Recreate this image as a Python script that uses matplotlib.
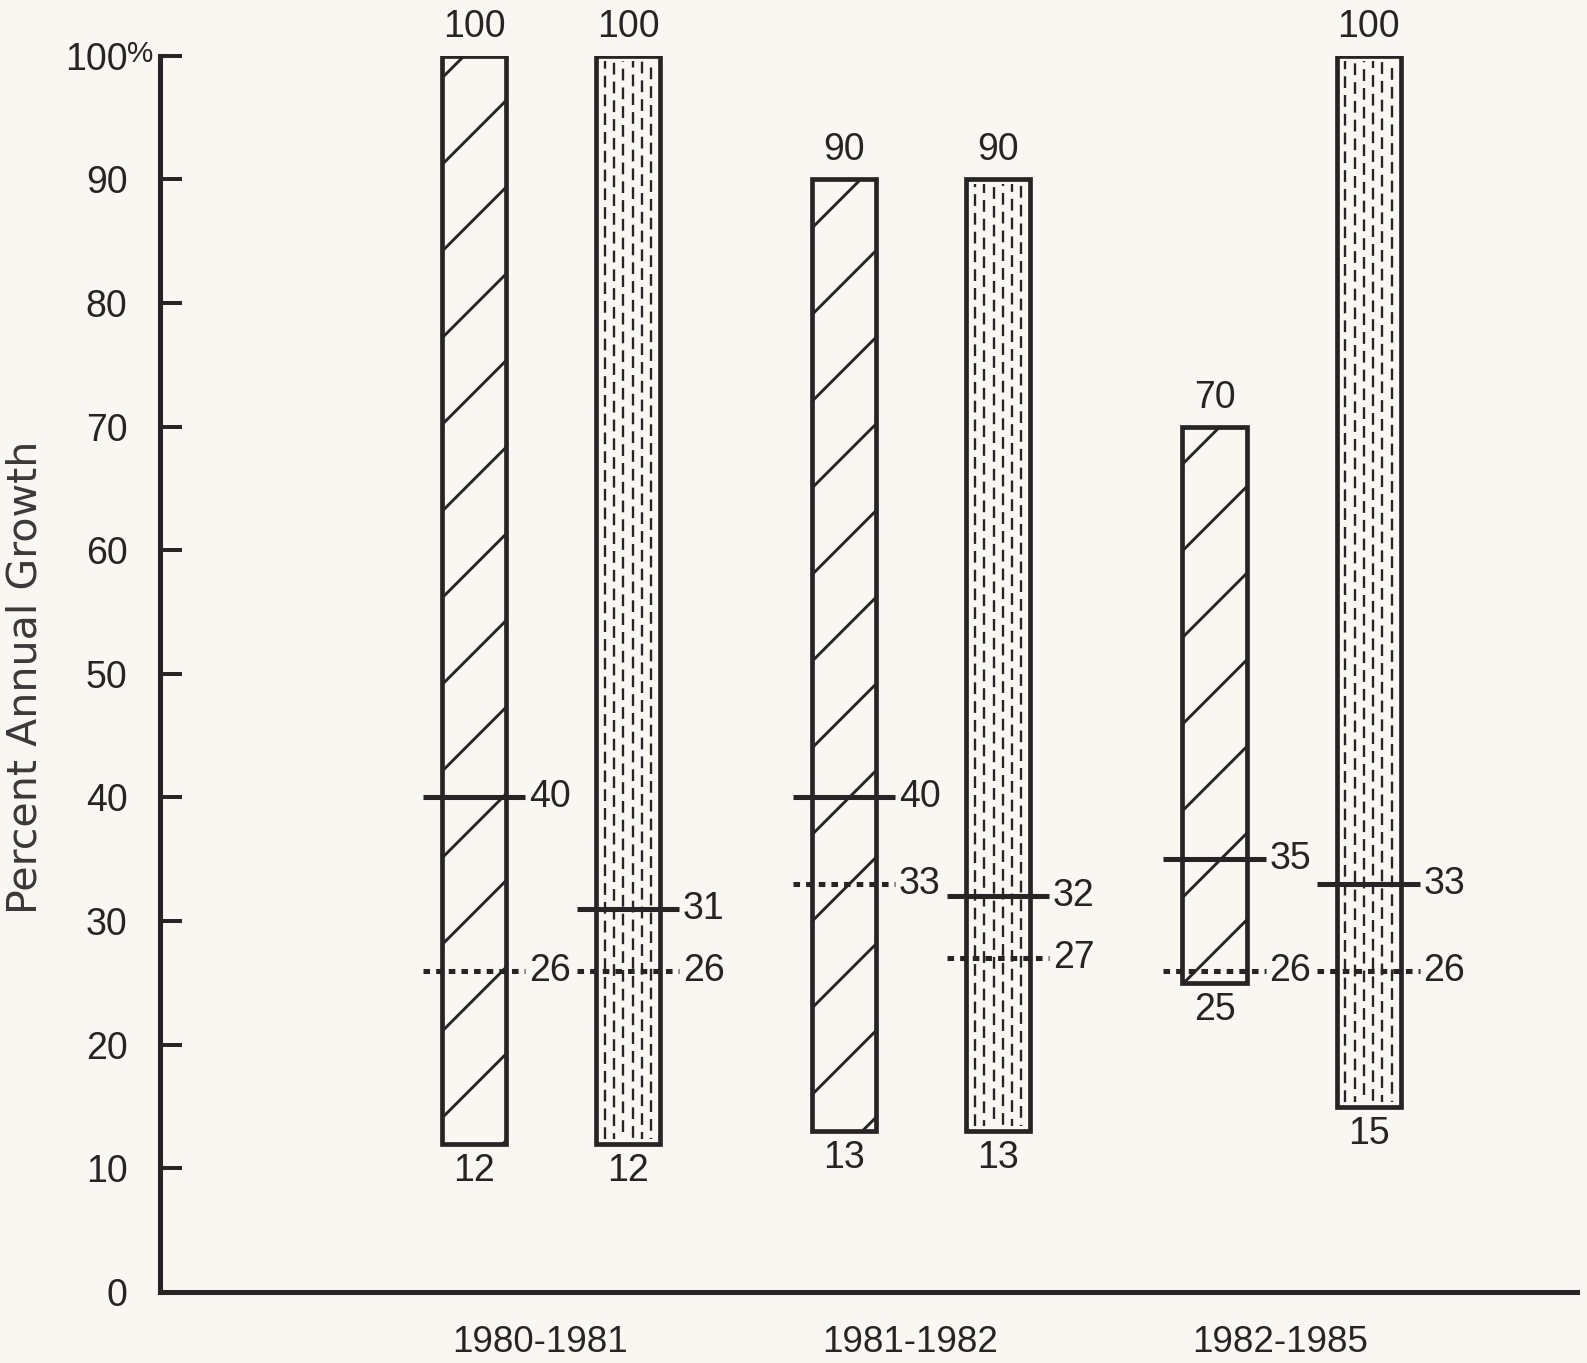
import matplotlib
matplotlib.use('Agg')
import matplotlib.pyplot as plt
import numpy as np
from matplotlib.transforms import offset_copy, blended_transform_factory

# data
periods = ['1980-1981', '1981-1982', '1982-1985']
hatch_low = [12, 13, 25]
hatch_high = [100, 90, 70]
hatch_mean = [40, 40, 35]
hatch_med = [26, 33, 26]
dot_low = [12, 13, 15]
dot_high = [100, 90, 100]
dot_mean = [31, 32, 33]
dot_med = [26, 27, 26]
yticks = [0, 10, 20, 30, 40, 50, 60, 70, 80, 90, 100]

bg = '#f9f7f2'
ink = '#262424'

dpi = 260
plt.rcParams['hatch.linewidth'] = 0.8
plt.rcParams['font.family'] = ['Liberation Sans', 'DejaVu Sans']
fig = plt.figure(figsize=(1587 / dpi, 1363 / dpi), dpi=dpi, facecolor=bg)
ax = fig.add_axes([160 / 1587, 1 - 1292 / 1363, (1577 - 160) / 1587, (1292 - 55.7) / 1363])
ax.set_facecolor(bg)
ax.set_xlim(-1.056, 2.771)
ax.set_ylim(0, 100)

x = np.arange(len(periods))
off = 0.208
bw = 0.173
half = 0.138
fs = 10.4


def draw_bar(xc, lo, hi, mean, med, dotted):
    if dotted:
        ax.bar(xc, hi - lo, bottom=lo, width=bw, facecolor=bg, edgecolor=ink, linewidth=1.3, zorder=2)
        for j, k in enumerate(np.linspace(-0.36, 0.36, 6)):
            ax.vlines(xc + k * bw, lo + 0.4, hi - 0.4, colors=ink, linewidth=0.65,
                      linestyles=(j * 2.5, (5, 3)), zorder=2)
    else:
        ax.bar(xc, hi - lo, bottom=lo, width=bw, facecolor=bg, edgecolor=ink, linewidth=1.3,
               hatch='/', zorder=2)
    ax.hlines(mean, xc - half, xc + half, colors=ink, linewidth=1.4, zorder=3)
    ax.hlines(med, xc - half, xc + half, colors=ink, linewidth=1.4,
              linestyles=(0, (1.3, 1.2)), zorder=3)
    for v in (mean, med):
        ax.annotate(str(v), (xc + half, v), xytext=(1, 0), textcoords='offset points',
                    ha='left', va='center', fontsize=fs, color=ink, annotation_clip=False)
    ax.annotate(str(hi), (xc, hi), xytext=(0, 3), textcoords='offset points',
                ha='center', va='bottom', fontsize=fs, color=ink, annotation_clip=False)
    ax.annotate(str(lo), (xc, lo), xytext=(0, -2.5), textcoords='offset points',
                ha='center', va='top', fontsize=fs, color=ink, annotation_clip=False)


for i in range(len(periods)):
    draw_bar(x[i] - off, hatch_low[i], hatch_high[i], hatch_mean[i], hatch_med[i], False)
    draw_bar(x[i] + off, dot_low[i], dot_high[i], dot_mean[i], dot_med[i], True)

for s in ['top', 'right']:
    ax.spines[s].set_visible(False)
for s in ['left', 'bottom']:
    ax.spines[s].set_linewidth(1.4)
    ax.spines[s].set_color(ink)

ax.set_yticks(yticks)
ax.set_yticklabels([str(t) for t in yticks])
ax.tick_params(axis='y', direction='in', length=6, width=1.1, pad=9, labelsize=fs,
               colors=ink)
# percent sign hangs past the aligned digits
trans = blended_transform_factory(ax.transAxes, ax.transData)
ax.text(0, yticks[-1], '%', transform=offset_copy(trans, fig=fig, x=-9, y=0.5, units='points'),
        ha='left', va='center', fontsize=8.2, color=ink)

ax.set_xticks(x - 0.03)
ax.set_xticklabels(periods)
ax.tick_params(axis='x', length=0, pad=9, labelsize=10.2, colors=ink)

fig.text(0.016, 0.503, 'Percent Annual Growth', rotation=90, ha='center', va='center',
         fontsize=11.4, color='#3a3838', family='DejaVu Sans')

fig.savefig('out.png', dpi=dpi, facecolor=bg)
